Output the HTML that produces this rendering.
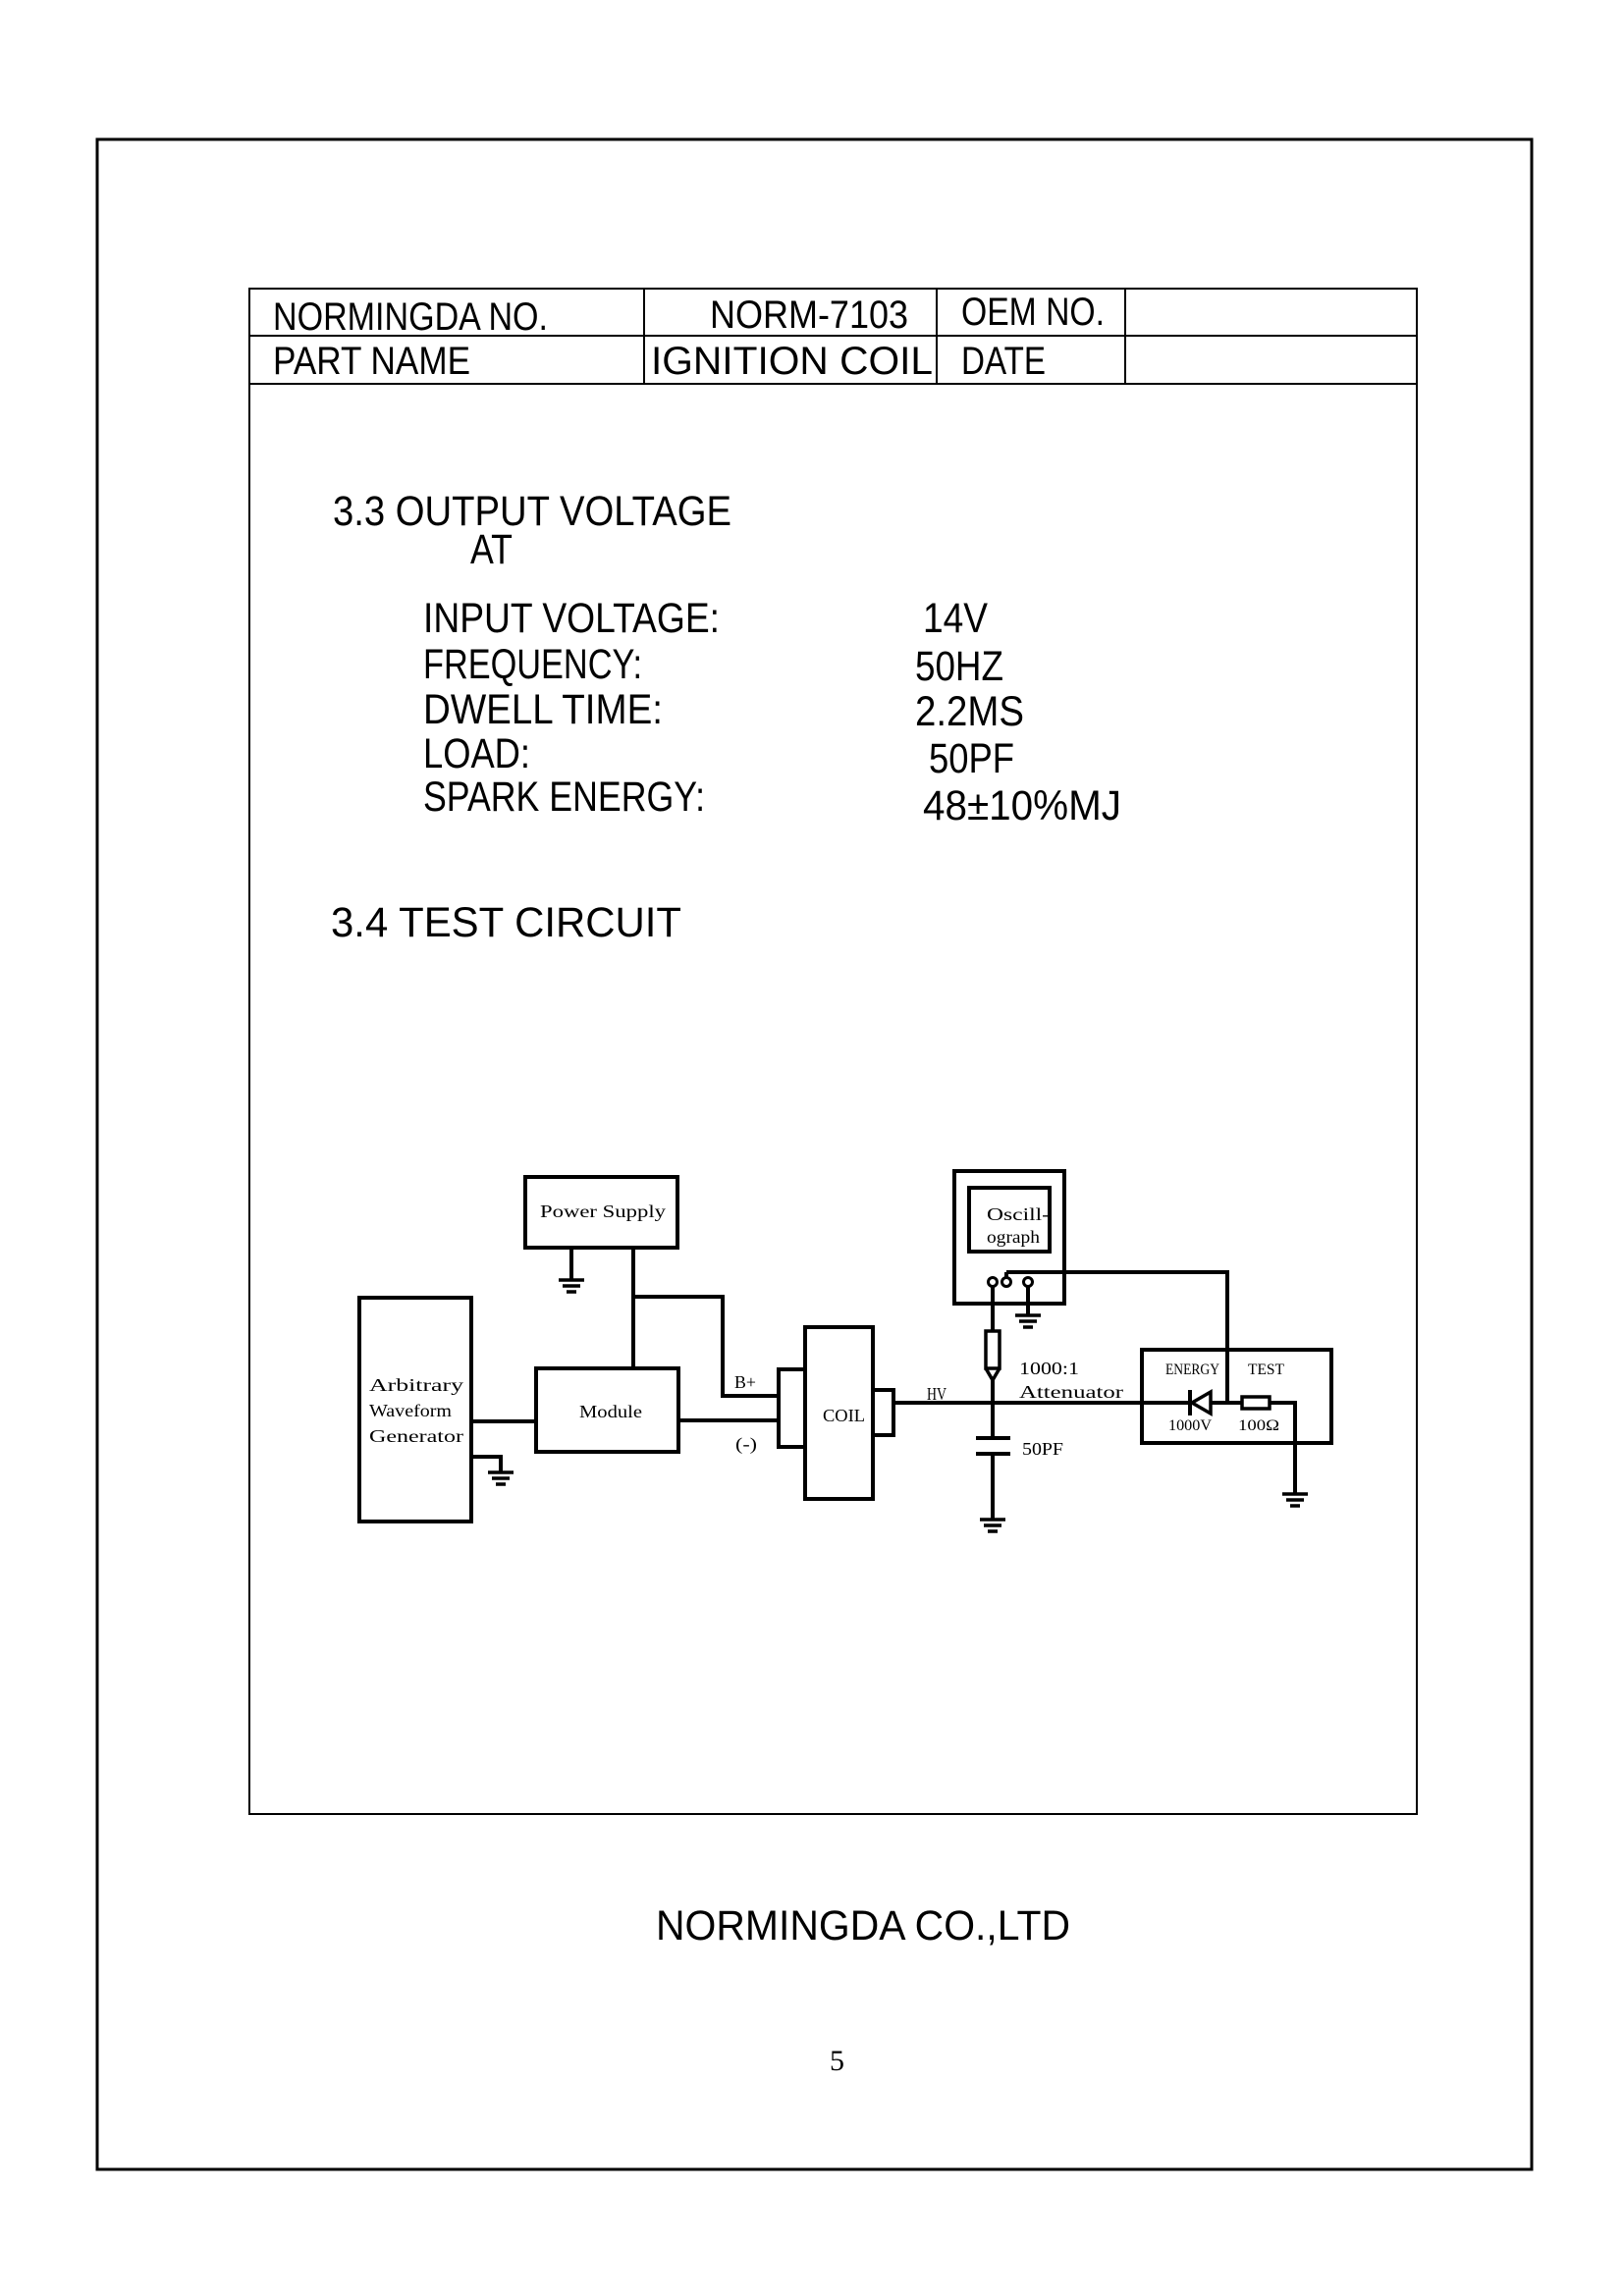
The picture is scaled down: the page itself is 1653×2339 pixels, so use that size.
<!DOCTYPE html>
<html><head><meta charset="utf-8"><style>html,body{margin:0;padding:0;background:#fff}svg{display:block}</style></head>
<body>
<svg width="1653" height="2339" viewBox="0 0 1653 2339" xmlns="http://www.w3.org/2000/svg">
<g fill="none" stroke="#000">
<rect x="99" y="142" width="1461" height="2068" stroke-width="3"/>
<rect x="254" y="294" width="1189" height="1554" stroke-width="2"/>
<line x1="254" y1="342" x2="1443" y2="342" stroke-width="2"/>
<line x1="254" y1="391" x2="1443" y2="391" stroke-width="2"/>
<line x1="656" y1="294" x2="656" y2="391" stroke-width="2"/>
<line x1="954" y1="294" x2="954" y2="391" stroke-width="2"/>
<line x1="1146" y1="294" x2="1146" y2="391" stroke-width="2"/>
</g>
<g font-family="Liberation Sans, sans-serif" fill="#000" lengthAdjust="spacingAndGlyphs">
<text x="278" y="336" font-size="40" textLength="280" lengthAdjust="spacingAndGlyphs">NORMINGDA NO.</text>
<text x="723" y="334" font-size="40" textLength="202" lengthAdjust="spacingAndGlyphs">NORM-7103</text>
<text x="979" y="331" font-size="40" textLength="146" lengthAdjust="spacingAndGlyphs">OEM NO.</text>
<text x="278" y="381" font-size="40" textLength="201" lengthAdjust="spacingAndGlyphs">PART NAME</text>
<text x="663" y="381" font-size="40" textLength="287" lengthAdjust="spacingAndGlyphs">IGNITION COIL</text>
<text x="979" y="381" font-size="40" textLength="86" lengthAdjust="spacingAndGlyphs">DATE</text>
<text x="339" y="535" font-size="43" textLength="406" lengthAdjust="spacingAndGlyphs">3.3 OUTPUT VOLTAGE</text>
<text x="479" y="574" font-size="43" textLength="43" lengthAdjust="spacingAndGlyphs">AT</text>
<text x="431" y="644" font-size="43" textLength="302" lengthAdjust="spacingAndGlyphs">INPUT VOLTAGE:</text>
<text x="940" y="644" font-size="43" textLength="66" lengthAdjust="spacingAndGlyphs">14V</text>
<text x="431" y="691" font-size="43" textLength="223" lengthAdjust="spacingAndGlyphs">FREQUENCY:</text>
<text x="932" y="693" font-size="43" textLength="90" lengthAdjust="spacingAndGlyphs">50HZ</text>
<text x="431" y="737" font-size="43" textLength="244" lengthAdjust="spacingAndGlyphs">DWELL TIME:</text>
<text x="932" y="739" font-size="43" textLength="111" lengthAdjust="spacingAndGlyphs">2.2MS</text>
<text x="431" y="782" font-size="43" textLength="109" lengthAdjust="spacingAndGlyphs">LOAD:</text>
<text x="946" y="787" font-size="43" textLength="87" lengthAdjust="spacingAndGlyphs">50PF</text>
<text x="431" y="826" font-size="43" textLength="287" lengthAdjust="spacingAndGlyphs">SPARK ENERGY:</text>
<text x="940" y="835" font-size="43" textLength="202" lengthAdjust="spacingAndGlyphs">48±10%MJ</text>
<text x="337" y="954" font-size="43" textLength="357" lengthAdjust="spacingAndGlyphs">3.4 TEST CIRCUIT</text>
<text x="668" y="1976" font-size="43" textLength="422" lengthAdjust="spacingAndGlyphs">NORMINGDA CO.,LTD</text>
<text x="845" y="2109" font-size="30" font-family="Liberation Serif, serif" textLength="15" lengthAdjust="spacingAndGlyphs">5</text>
</g>
<!-- circuit -->
<g fill="none" stroke="#000" stroke-width="4">
<rect x="535" y="1199" width="155" height="72"/>
<rect x="366" y="1322" width="114" height="228"/>
<rect x="546" y="1394" width="145" height="85"/>
<rect x="820" y="1352" width="69" height="175"/>
<rect x="793" y="1395" width="27" height="79"/>
<rect x="889" y="1416" width="21" height="46"/>
<rect x="972" y="1193" width="112" height="135"/>
<rect x="987" y="1210" width="82" height="65"/>
<rect x="1163" y="1375" width="193" height="95"/>
<!-- PS wires -->
<polyline points="645,1271 645,1394"/>
<polyline points="645,1321 736,1321 736,1422 793,1422"/>
<line x1="691" y1="1447" x2="793" y2="1447"/>
<line x1="480" y1="1448" x2="546" y2="1448"/>
<polyline points="480,1484 510,1484 510,1500"/>
<line x1="582" y1="1271" x2="582" y2="1304"/>
<!-- HV -->
<line x1="910" y1="1429" x2="1212" y2="1429"/>
<line x1="1233" y1="1429" x2="1265" y2="1429"/>
<polyline points="1293,1429 1319,1429 1319,1522"/>
<polyline points="1025,1296 1250,1296 1250,1429"/>
<line x1="1011" y1="1310" x2="1011" y2="1356"/>
<line x1="1011" y1="1404" x2="1011" y2="1465"/>
<line x1="1011" y1="1481" x2="1011" y2="1548"/>
<line x1="1047" y1="1310" x2="1047" y2="1340"/>
<line x1="1025" y1="1296" x2="1025" y2="1302"/>
<rect x="1004" y="1356" width="14" height="38" stroke-width="3.5"/>
<polyline points="1004,1394 1011,1406 1018,1394" stroke-width="3.5"/>
<line x1="994" y1="1465" x2="1029" y2="1465"/>
<line x1="994" y1="1481" x2="1029" y2="1481"/>
<rect x="1265" y="1423" width="28" height="12" stroke-width="3.5"/>
<polygon points="1233,1418 1233,1440 1214,1429" stroke-width="3.5"/>
<line x1="1212" y1="1416" x2="1212" y2="1442"/>
<circle cx="1011" cy="1306" r="4.5" stroke-width="3"/>
<circle cx="1025" cy="1306" r="4.5" stroke-width="3"/>
<circle cx="1047" cy="1306" r="4.5" stroke-width="3"/>
</g>
<!-- grounds -->
<g stroke="#000" stroke-width="3.5">
<g transform="translate(582,1304)"><line x1="-13" y1="0" x2="13" y2="0"/><line x1="-9" y1="6" x2="9" y2="6"/><line x1="-5" y1="12" x2="5" y2="12"/></g>
<g transform="translate(510,1500)"><line x1="-13" y1="0" x2="13" y2="0"/><line x1="-9" y1="6" x2="9" y2="6"/><line x1="-5" y1="12" x2="5" y2="12"/></g>
<g transform="translate(1047,1340)"><line x1="-13" y1="0" x2="13" y2="0"/><line x1="-9" y1="6" x2="9" y2="6"/><line x1="-5" y1="12" x2="5" y2="12"/></g>
<g transform="translate(1011,1548)"><line x1="-13" y1="0" x2="13" y2="0"/><line x1="-9" y1="6" x2="9" y2="6"/><line x1="-5" y1="12" x2="5" y2="12"/></g>
<g transform="translate(1319,1522)"><line x1="-13" y1="0" x2="13" y2="0"/><line x1="-9" y1="6" x2="9" y2="6"/><line x1="-5" y1="12" x2="5" y2="12"/></g>
</g>
<g font-family="Liberation Serif, serif" fill="#000" font-size="18">
<text x="550" y="1240" textLength="128" lengthAdjust="spacingAndGlyphs">Power Supply</text>
<text x="376" y="1417" textLength="96" lengthAdjust="spacingAndGlyphs">Arbitrary</text>
<text x="376" y="1443" textLength="84" lengthAdjust="spacingAndGlyphs">Waveform</text>
<text x="376" y="1469" textLength="96" lengthAdjust="spacingAndGlyphs">Generator</text>
<text x="590" y="1444" textLength="64" lengthAdjust="spacingAndGlyphs">Module</text>
<text x="838" y="1448" textLength="43" lengthAdjust="spacingAndGlyphs">COIL</text>
<text x="748" y="1414" textLength="22" lengthAdjust="spacingAndGlyphs">B+</text>
<text x="749" y="1477" textLength="22" lengthAdjust="spacingAndGlyphs">(-)</text>
<text x="944" y="1426" textLength="20" lengthAdjust="spacingAndGlyphs">HV</text>
<text x="1005" y="1243" textLength="64" lengthAdjust="spacingAndGlyphs">Oscill-</text>
<text x="1005" y="1266" textLength="54" lengthAdjust="spacingAndGlyphs">ograph</text>
<text x="1038" y="1400" textLength="61" lengthAdjust="spacingAndGlyphs">1000:1</text>
<text x="1038" y="1424" textLength="106" lengthAdjust="spacingAndGlyphs">Attenuator</text>
<text x="1041" y="1482" textLength="42" lengthAdjust="spacingAndGlyphs">50PF</text>
<text x="1187" y="1400" font-size="16" textLength="55" lengthAdjust="spacingAndGlyphs">ENERGY</text>
<text x="1271" y="1400" font-size="16" textLength="37" lengthAdjust="spacingAndGlyphs">TEST</text>
<text x="1190" y="1457" font-size="16" textLength="44" lengthAdjust="spacingAndGlyphs">1000V</text>
<text x="1261" y="1457" font-size="16" textLength="42" lengthAdjust="spacingAndGlyphs">100Ω</text>
</g>
</svg>
</body></html>
